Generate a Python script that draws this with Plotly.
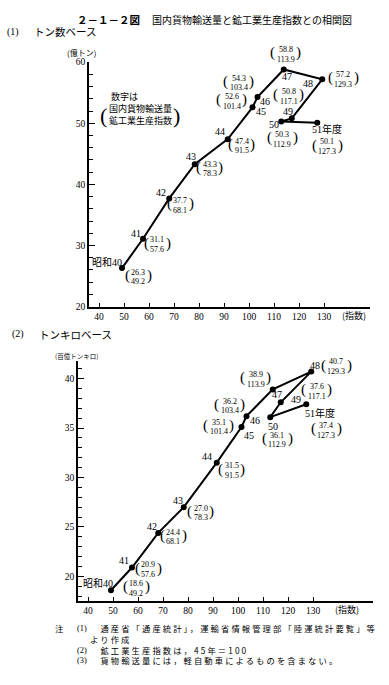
import plotly.graph_objects as go

W, H = 389, 685

# ---------------- data ----------------
years = ["昭和40", "41", "42", "43", "44", "45", "46", "47", "48", "49", "50", "51年度"]
index_vals = [49.2, 57.6, 68.1, 78.3, 91.5, 101.4, 103.4, 113.9, 129.3, 117.1, 112.9, 127.3]
tons = [26.3, 31.1, 37.7, 43.3, 47.4, 52.6, 54.3, 58.8, 57.2, 50.8, 50.3, 50.1]
tonkm = [18.6, 20.9, 24.4, 27.0, 31.5, 35.1, 36.2, 38.9, 40.7, 37.6, 36.1, 37.4]
x_ticks = [40, 50, 60, 70, 80, 90, 100, 110, 120, 130]

# ---------------- label placement (pixel offsets: dx right, dy down) ----------------
top_year_off = [(-15, -6), (-7, -5), (-8, -6), (-4, -8), (-8, -8), (8, 4), (7, 5),
                (3, 7), (-14, 4), (-4, -7), (-7, 3), (10, 6)]
top_val_off = [(16, 9), (14, 6), (11, 7), (15, 5), (14, 7), (-21, -6), (-19, -14),
               (2, -15), (21, 0), (-3, -22), (1, 18), (10, 24)]
bot_year_off = [(-13, -7), (-8, -7), (-6, -6), (-6, -7), (-10, -6), (7, 8), (8, 4),
                (4, 5), (4, -6), (15, -3), (3, 9), (14, 9)]
bot_val_off = [(25, -2), (16, 2), (15, 4), (17, 6), (15, 8), (-23, 0), (-17, -10),
               (-17, -10), (25, -5), (36, -11), (7, 23), (20, 26)]

SERIF = "Liberation Serif, Noto Sans CJK JP"
CJK = "Noto Sans CJK JP, Liberation Serif"
VAL_SIZE = 8
VAL_GAP = 9.5


def numw(s, size):
    return sum(0.5 * size if c.isdigit() else 0.25 * size for c in s)


fig = go.Figure()
fig.add_trace(go.Scatter(x=index_vals, y=tons, mode="lines+markers",
                         line=dict(color="black", width=2),
                         marker=dict(color="black", size=6),
                         xaxis="x", yaxis="y", showlegend=False, hoverinfo="skip"))
fig.add_trace(go.Scatter(x=index_vals, y=tonkm, mode="lines+markers",
                         line=dict(color="black", width=2),
                         marker=dict(color="black", size=6),
                         xaxis="x2", yaxis="y2", showlegend=False, hoverinfo="skip"))

ann = []


def data_labels(xr, yr, yvals, yoffs, voffs):
    for i, (xv, yv) in enumerate(zip(index_vals, yvals)):
        dx, dy = yoffs[i]
        ann.append(dict(x=xv, y=yv, xref=xr, yref=yr, text=years[i], showarrow=False,
                        xshift=dx, yshift=-dy, xanchor="center", yanchor="middle",
                        font=dict(family=SERIF, size=10, color="black")))
        a, b = "%.1f" % yv, "%.1f" % xv
        dx, dy = voffs[i]
        for txt, k in ((a, -1), (b, 1)):
            ann.append(dict(x=xv, y=yv, xref=xr, yref=yr, text=txt, showarrow=False,
                            xshift=dx, yshift=-(dy + k * VAL_GAP / 2),
                            xanchor="center", yanchor="middle",
                            font=dict(family=SERIF, size=VAL_SIZE, color="black")))
        w = max(numw(a, VAL_SIZE), numw(b, VAL_SIZE))
        for ch, sgn in (("(", -1), (")", 1)):
            ann.append(dict(x=xv, y=yv, xref=xr, yref=yr, text=ch, showarrow=False,
                            xshift=dx + sgn * (w / 2 + 4), yshift=-dy + 1.5,
                            xanchor="center", yanchor="middle",
                            font=dict(family=SERIF, size=15, color="black")))


data_labels("x", "y", tons, top_year_off, top_val_off)
data_labels("x2", "y2", tonkm, bot_year_off, bot_val_off)


def ptext(text, px, py, size, anchor="left", family=CJK, ls=None, **kw):
    if ls is not None:
        text = '<span style="letter-spacing:%spx">%s</span>' % (ls, text)
    ann.append(dict(x=px / W, y=1 - py / H, xref="paper", yref="paper", text=text,
                    showarrow=False, xanchor=anchor, yanchor="middle",
                    font=dict(family=family, size=size, color="black"), **kw))


# titles
ptext("<b>２－１－２図</b>", 75, 15, 10.5)
ptext("国内貨物輸送量と鉱工業生産指数との相関図", 150, 15, 10)
ptext("(1)", 5, 27, 10, family=SERIF)
ptext("トン数ベース", 32, 27, 10.5)
ptext("(億トン)", 81, 48, 8, anchor="center")
ptext("(指数)", 354, 315, 9, anchor="center")
# legend-like note
ptext("数字は", 124, 93, 9, anchor="center")
ptext("国内貨物輸送量<br>鉱工業生産指数", 140, 111, 9, anchor="center")
ptext("(", 104, 112, 22, anchor="center", family=SERIF)
ptext(")", 176, 112, 22, anchor="center", family=SERIF)

ptext("(2)", 10, 334, 10, family=SERIF)
ptext("トンキロベース", 37, 334, 10.5)
ptext("(百億トンキロ)", 76, 356, 6.5, anchor="center")
ptext("(指数)", 347, 613, 9, anchor="center")

# notes (one block per column so the lines share one line spacing)
NOTE_Y = 648.5
ptext("注", 53, 632.3, 8.3)
ptext("(1)<br>　<br>(2)<br>(3)", 75, NOTE_Y, 8.3, family=SERIF)
ptext("　通産省「通産統計」，運輸省情報管理部「陸運統計要覧」等<br>"
      "より作成<br>"
      "　鉱工業生産指数は，45年＝100<br>"
      "　貨物輸送量には，軽自動車によるものを含まない。",
      88, NOTE_Y, 8.3, ls=2.1, align="left")

axis_common = dict(showline=True, linecolor="black", linewidth=1.5, showgrid=False,
                   zeroline=False, ticks="inside", tickcolor="black", tickwidth=1,
                   tickfont=dict(family=SERIF, size=9.5, color="black"))

fig.update_layout(
    width=W, height=H, margin=dict(l=0, r=0, t=0, b=0),
    paper_bgcolor="white", plot_bgcolor="white",
    xaxis=dict(domain=[89 / W, 370 / W], range=[36, 148.4], anchor="y",
               tickvals=x_ticks, ticklen=4, **axis_common),
    yaxis=dict(domain=[1 - 306 / H, 1 - 58 / H], range=[20, 60], anchor="x",
               tick0=20, dtick=10, ticklen=6,
               minor=dict(tick0=20, dtick=2, ticks="inside", ticklen=4,
                          tickcolor="black", tickwidth=1),
               **axis_common),
    xaxis2=dict(domain=[78 / W, 373 / W], range=[36, 154], anchor="y2",
                tickvals=x_ticks, ticklen=4, **axis_common),
    yaxis2=dict(domain=[1 - 605 / H, 1 - 361 / H], range=[17.5, 41.8], anchor="x2",
                tick0=20, dtick=5, ticklen=6,
                minor=dict(tick0=20, dtick=1, ticks="inside", ticklen=4,
                           tickcolor="black", tickwidth=1),
                **axis_common),
    annotations=ann,
)

fig.write_html("out.html",
               config={"displayModeBar": False},
               post_script="document.body.style.margin='0';"
                           "document.body.style.overflow='hidden';")
